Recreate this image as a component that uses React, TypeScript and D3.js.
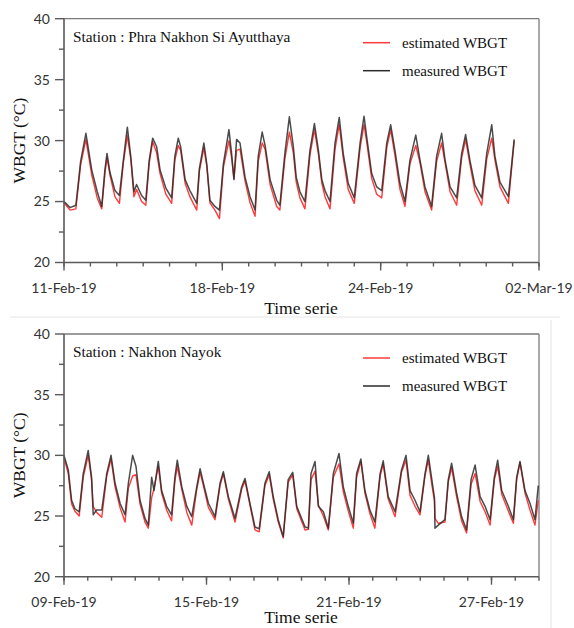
import React from "react";
import * as d3 from "d3";

// ---------- Data ----------
// Top panel: Phra Nakhon Si Ayutthaya (x = days since 11-Feb-19)
const topDays = [0.00,0.23,0.45,0.63,0.83,1.05,1.26,1.43,1.55,1.63,1.74,1.93,2.10,2.25,2.40,2.53,2.65,2.75,2.94,3.10,3.23,3.36,3.51,3.64,3.86,4.08,4.20,4.33,4.42,4.59,4.77,5.03,5.13,5.30,5.41,5.53,5.72,5.89,6.04,6.25,6.35,6.44,6.54,6.67,6.86,7.05,7.24,7.36,7.51,7.62,7.81,8.06,8.18,8.37,8.54,8.69,8.80,8.94,9.13,9.32,9.49,9.64,9.77,9.89,10.08,10.27,10.43,10.58,10.77,11.00,11.22,11.37,11.47,11.66,11.85,12.04,12.23,12.38,12.54,12.73,12.92,13.11,13.33,13.49,13.68,13.93,14.12,14.31,14.44,14.63,14.88,15.07,15.22,15.38,15.57,15.83,16.02,16.21,16.33,16.52,16.84,17.06];
const topMeasured = [25.0,24.5,24.7,28.3,30.6,27.6,25.8,24.6,27.6,28.95,27.4,25.9,25.5,28.4,31.1,28.7,25.8,26.4,25.5,25.1,28.4,30.2,29.5,27.6,26.1,25.3,28.7,30.2,29.5,26.8,25.9,24.85,27.7,29.8,28.1,25.1,24.6,24.3,28.1,30.9,28.95,26.8,30.1,29.8,27.0,25.4,24.3,28.7,30.7,29.6,26.8,25.1,24.7,28.95,31.95,29.5,27.0,25.8,25.0,29.2,31.4,29.2,26.8,25.9,25.0,29.8,31.9,28.95,26.5,25.3,29.8,32.0,30.3,27.3,26.2,25.9,29.8,31.3,29.2,26.5,25.0,28.4,30.45,28.4,26.2,24.6,28.7,30.6,28.4,26.2,25.3,28.95,30.5,28.4,26.35,25.3,28.95,31.3,28.7,26.6,25.4,30.1];
const topEstimated = [24.9,24.3,24.4,28.0,30.1,27.2,25.3,24.4,27.3,28.6,27.2,25.4,24.85,28.2,30.4,28.5,25.4,26.0,25.0,24.7,28.2,29.9,29.0,27.3,25.6,24.85,28.4,29.6,29.2,26.5,25.4,24.3,27.5,29.4,27.9,24.9,24.3,23.6,27.8,30.0,28.6,26.9,29.2,29.3,26.7,24.9,23.8,28.3,29.8,29.3,26.4,24.6,24.3,28.5,30.7,29.0,26.6,25.3,24.4,28.8,30.9,28.9,26.5,25.4,24.4,29.3,31.3,28.6,26.0,24.85,29.4,31.3,29.9,26.9,25.6,25.3,29.4,30.9,28.8,26.0,24.6,28.1,29.6,28.2,25.8,24.3,28.3,29.8,28.2,25.8,24.7,28.6,30.1,28.1,25.9,24.7,28.5,30.2,28.4,26.2,24.85,30.0];
const topTickLabels = ["11-Feb-19", "18-Feb-19", "24-Feb-19", "02-Mar-19"];

// Bottom panel: Nakhon Nayok (x = days since 09-Feb-19)
const botDays = [0.00,0.18,0.32,0.46,0.64,0.81,1.02,1.16,1.23,1.37,1.59,1.80,1.98,2.15,2.36,2.57,2.71,2.89,3.03,3.20,3.41,3.55,3.69,3.79,3.97,4.11,4.32,4.53,4.67,4.77,4.96,5.17,5.38,5.59,5.73,5.87,6.08,6.36,6.57,6.71,6.92,7.20,7.48,7.62,7.83,8.04,8.22,8.46,8.64,8.81,9.02,9.23,9.44,9.63,9.80,10.15,10.29,10.40,10.57,10.71,10.92,11.13,11.34,11.58,11.76,11.97,12.18,12.32,12.50,12.67,12.88,13.09,13.31,13.44,13.65,13.94,14.21,14.40,14.57,14.78,14.99,15.20,15.34,15.51,15.60,15.62,15.76,16.04,16.18,16.32,16.53,16.74,16.95,17.14,17.31,17.52,17.73,17.94,18.12,18.26,18.43,18.71,18.92,19.06,19.20,19.41,19.62,19.83,19.97];
const botMeasured = [30.0,28.8,26.3,25.6,25.35,28.5,30.4,28.2,25.1,25.5,25.5,28.5,30.0,27.7,26.05,25.1,27.7,30.0,29.1,26.3,24.8,24.25,28.2,27.1,29.5,27.1,25.8,25.1,28.2,29.6,27.4,25.8,24.95,27.4,28.9,27.7,26.05,24.95,27.7,28.65,26.6,24.8,27.4,28.1,26.05,24.1,23.95,27.7,28.65,26.6,24.7,23.3,28.0,28.6,25.8,24.1,24.0,28.5,29.5,25.8,25.35,24.0,28.5,30.15,27.4,25.8,24.4,28.5,29.7,27.1,25.5,24.5,28.5,29.55,26.6,25.35,28.8,30.0,27.1,26.3,25.35,28.5,30.0,27.7,26.5,24.0,24.25,24.7,28.0,29.35,26.9,24.95,23.85,28.0,29.2,26.6,25.8,24.7,28.2,29.6,27.1,25.8,24.7,28.2,29.5,27.1,26.05,24.7,27.5];
const botEstimated = [29.8,28.5,26.0,25.4,25.0,28.2,30.0,28.0,25.8,25.3,24.9,28.3,29.7,27.4,25.7,24.5,27.3,28.3,28.4,26.0,24.5,24.0,26.5,27.3,29.1,26.9,25.5,24.6,27.9,29.1,27.2,25.3,24.25,27.2,28.6,27.5,25.7,24.7,27.5,28.5,26.4,24.5,27.2,27.9,25.9,23.85,23.7,27.5,28.4,26.4,24.5,23.2,27.8,28.4,25.6,23.85,23.9,28.0,28.7,25.9,25.0,23.85,28.2,29.3,27.0,25.4,24.0,28.2,29.5,26.9,25.2,24.0,28.3,29.3,26.4,24.95,28.6,29.6,26.7,25.8,25.1,28.3,29.6,27.3,26.2,24.8,24.4,24.5,27.8,29.0,26.6,24.6,23.6,27.6,28.5,26.2,25.35,24.25,28.0,29.1,26.8,25.4,24.4,28.0,29.4,26.9,25.5,24.25,26.3];
const botTickLabels = ["09-Feb-19", "15-Feb-19", "21-Feb-19", "27-Feb-19"];

const yMajorTicks = [20, 25, 30, 35, 40];
const yMinorTicks = [22.5, 27.5, 32.5, 37.5];
const seriesNames = ["estimated WBGT", "measured WBGT"];

const SANS = "Lato, 'Open Sans', sans-serif";
const SERIF = "'Liberation Serif', 'DejaVu Serif', serif";
const RED = "#ff3b3b";
const BLACK = "#2b2b2b";
const AXIS = "#5a5a5a";

type PanelProps = {
  top: number;
  bottom: number;
  days: number[];
  measured: number[];
  estimated: number[];
  dayMax: number;
  tickLabels: string[];
  station: string;
  titleOffset: number;
};

function Panel({ top, bottom, days, measured, estimated, dayMax, tickLabels, station, titleOffset }: PanelProps) {
  const left = 64;
  const right = 539;
  const x = d3.scaleLinear().domain([0, dayMax]).range([left, right]);
  const y = d3.scaleLinear().domain([20, 40]).range([bottom, top]);
  const line = d3
    .line<number>()
    .x((_, i) => x(days[i]))
    .y((v) => y(v))
    .curve(d3.curveLinear);
  const minorDays = d3.range(0, dayMax + 1, 1);
  const majorDays = tickLabels.map((_, i) => i * 6);
  return (
    <g>
      {/* frame top/right */}
      <line x1={left} x2={right} y1={top} y2={top} stroke="#7a7a7a" strokeWidth={1.3} />
      <line x1={right} x2={right} y1={top} y2={bottom} stroke="#7a7a7a" strokeWidth={1.3} />
      {/* data */}
      <path d={line(estimated) || ""} fill="none" stroke={RED} strokeWidth={1.4} strokeLinejoin="round" />
      <path d={line(measured) || ""} fill="none" stroke={BLACK} strokeWidth={1.5} strokeOpacity={0.85} strokeLinejoin="round" />
      {/* y axis */}
      <line x1={left} x2={left} y1={top} y2={bottom} stroke={AXIS} strokeWidth={1.6} />
      {yMajorTicks.map((t) => (
        <g key={"ym" + t}>
          <line x1={left - 9} x2={left} y1={y(t)} y2={y(t)} stroke={AXIS} strokeWidth={1.4} />
          <text x={50} y={y(t)} dy="0.35em" textAnchor="end" fontFamily={SANS} fontSize={14} fill="#333">
            {t}
          </text>
        </g>
      ))}
      {yMinorTicks.map((t) => (
        <line key={"yn" + t} x1={left - 5} x2={left} y1={y(t)} y2={y(t)} stroke={AXIS} strokeWidth={1.4} />
      ))}
      {/* x axis */}
      <line x1={left} x2={right} y1={bottom} y2={bottom} stroke={AXIS} strokeWidth={1.6} />
      {minorDays.map((d) => (
        <line key={"xn" + d} x1={x(d)} x2={x(d)} y1={bottom} y2={bottom + 4} stroke={AXIS} strokeWidth={1.4} />
      ))}
      {majorDays.map((d, i) => (
        <g key={"xm" + d}>
          <line x1={x(d)} x2={x(d)} y1={bottom} y2={bottom + 8} stroke={AXIS} strokeWidth={1.4} />
          <text x={x(d)} y={bottom + 30} textAnchor="middle" fontFamily={SANS} fontSize={14} fill="#333">
            {tickLabels[i]}
          </text>
        </g>
      ))}
      {/* axis titles */}
      <text x={301} y={bottom + titleOffset} textAnchor="middle" fontFamily={SERIF} fontSize={17.5} fill="#111">
        Time serie
      </text>
      <text
        transform={`translate(25, ${(top + bottom) / 2}) rotate(-90)`}
        textAnchor="middle"
        fontFamily={SERIF}
        fontSize={17.5}
        fill="#111"
      >
        WBGT (°C)
      </text>
      {/* station */}
      <text x={73} y={top + 23} fontFamily={SERIF} fontSize={15.3} fill="#111">
        {station}
      </text>
      {/* legend */}
      {seriesNames.map((name, i) => (
        <g key={name}>
          <line
            x1={363}
            x2={390}
            y1={top + 24 + i * 28}
            y2={top + 24 + i * 28}
            stroke={i === 0 ? RED : BLACK}
            strokeWidth={1.5}
          />
          <text x={402} y={top + 29 + i * 28} fontFamily={SERIF} fontSize={15} fill="#111">
            {name}
          </text>
        </g>
      ))}
    </g>
  );
}

export default function App() {
  return (
    <svg
      width={574}
      height={628}
      style={{ position: "absolute", left: 0, top: 0, background: "#fff" }}
    >
      <rect width={574} height={628} fill="#fff" />
      <line x1={10} x2={560} y1={317} y2={317} stroke="#e6e6e6" strokeWidth={1} />
      <line x1={551} x2={551} y1={320} y2={628} stroke="#e3e3e3" strokeWidth={1} />
      <Panel
        top={18.7}
        bottom={262.5}
        days={topDays}
        measured={topMeasured}
        estimated={topEstimated}
        dayMax={18}
        tickLabels={topTickLabels}
        station="Station : Phra Nakhon Si Ayutthaya"
        titleOffset={51}
      />
      <Panel
        top={334}
        bottom={576.7}
        days={botDays}
        measured={botMeasured}
        estimated={botEstimated}
        dayMax={20}
        tickLabels={botTickLabels}
        station="Station : Nakhon Nayok"
        titleOffset={46.5}
      />
    </svg>
  );
}
